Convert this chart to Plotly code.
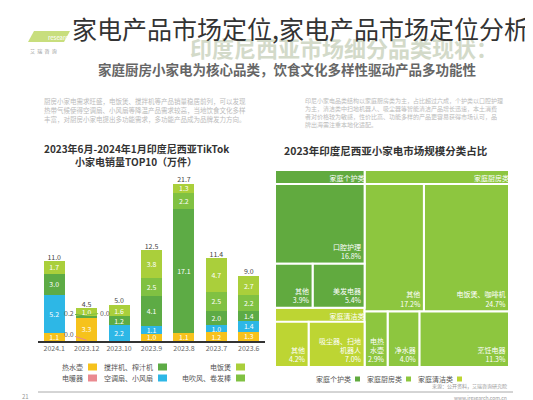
import plotly.graph_objects as go

FONT = "Noto Sans CJK SC"

# ---------------- bar chart data ----------------
months = ["2023.6", "2023.7", "2023.8", "2023.9", "2023.10", "2023.12", "2024.1"]
kettle = [1.3, 1.2, 1.1, 1.0, 0.0, 3.3, 1.1]          # 热水壶
heater = [0.0, 0.0, 0.0, 0.0, 0.0, 0.0, 0.0]          # 电暖器
fan = [1.4, 1.0, 0.0, 1.1, 2.2, 0.0, 5.2]             # 空调扇、小风扇
juicer = [1.4, 2.0, 17.1, 4.1, 1.2, 0.2, 3.0]         # 搅拌机、榨汁机
dryer = [2.2, 2.5, 2.2, 2.5, 0.0, 0.0, 0.0]           # 电吹风、卷发棒
cooker = [2.7, 4.7, 1.3, 3.8, 1.6, 1.0, 1.7]          # 电饭煲

series_names = ["热水壶", "电暖器", "空调扇、小风扇", "搅拌机、榨汁机", "电吹风、卷发棒", "电饭煲"]
series_values = [kettle, heater, fan, juicer, dryer, cooker]
series_colors = ["#f6c21c", "#ea8a90", "#2db7e6", "#5dab45", "#80c142", "#aacf3b"]

# ---------------- treemap data ----------------
tm_ids = ["厨房", "个护", "清洁",
          "厨房-1", "厨房-2", "厨房-3", "厨房-4", "厨房-5",
          "个护-1", "个护-2", "个护-3",
          "清洁-1", "清洁-2"]
tm_labels = ["家庭厨房类", "家庭个护类", "家庭清洁类",
             "电饭煲、咖啡机", "其他", "烹饪电器", "净水器", "电热<br>水壶",
             "口腔护理", "美发电器", "其他",
             "吸尘器、扫地<br>机器人", "其他"]
tm_parents = ["root", "root", "root",
              "厨房", "厨房", "厨房", "厨房", "厨房",
              "个护", "个护", "个护",
              "清洁", "清洁"]
tm_child_values = [24.7, 17.2, 11.3, 4.0, 2.9, 16.8, 5.4, 3.9, 7.0, 4.2]
cat_names = ["家庭个护类", "家庭厨房类", "家庭清洁类"]
cat_keys = ["个护", "厨房", "清洁"]
cat_colors = {"厨房": "#8dc63f", "个护": "#61aa3f", "清洁": "#bdd533", "root": "white"}

fig = go.Figure()

for name, vals, color in zip(series_names, series_values, series_colors):
    fig.add_trace(go.Bar(
        x=months, y=vals, name=name, marker_color=color,
        marker_line_width=0, width=0.65, showlegend=False,
        text=[f"{v:.1f}" if v >= 0.9 else "" for v in vals],
        textposition="inside", insidetextanchor="middle",
        textfont=dict(color="white", size=7, family=FONT),
        textangle=0, hoverinfo="skip",
    ))

totals = [round(sum(s[i] for s in series_values), 1) for i in range(len(months))]
fig.add_trace(go.Scatter(
    x=months, y=totals, mode="text", text=[f"{t:.1f}" for t in totals],
    textposition="top center", textfont=dict(size=7, color="#444", family=FONT),
    showlegend=False, hoverinfo="skip", cliponaxis=False,
))

# treemap
parent_vals = {}
for pid, v in zip(tm_parents[3:], tm_child_values):
    parent_vals[pid] = parent_vals.get(pid, 0) + v
cat_vals = [parent_vals["厨房"], parent_vals["个护"], parent_vals["清洁"]]
ids = ["root"] + tm_ids
labels = [""] + tm_labels
parents = [""] + tm_parents
values = [sum(cat_vals)] + cat_vals + tm_child_values
colors = [cat_colors[i.split("-")[0]] for i in ids]
n_leaf = len(tm_child_values)
tm_domain = dict(x=[267 / 533, 501 / 533], y=[1 - 359 / 400, 1 - 148 / 400])
tiling = dict(packing="squarify", squarifyratio=1.5, flip="x", pad=0)
pad = dict(t=14, l=0, r=0, b=0)

# cells with leaf labels (bottom right)
fig.add_trace(go.Treemap(
    ids=ids, labels=labels, parents=parents, values=values,
    branchvalues="total", sort=True,
    marker=dict(colors=colors, line=dict(color="white", width=2), pad=pad),
    texttemplate=[""] * 4 + ["%{label}<br>%{value:.1f}%"] * n_leaf,
    textposition="bottom right",
    textfont=dict(color="white", size=7, family=FONT),
    tiling=tiling, pathbar=dict(visible=False), domain=tm_domain, hoverinfo="skip",
))
# same layout, transparent: category labels in the headers
fig.add_trace(go.Treemap(
    ids=ids, labels=labels, parents=parents, values=values,
    branchvalues="total", sort=True,
    marker=dict(colors=["rgba(0,0,0,0)"] * len(ids), line=dict(width=0), pad=pad),
    texttemplate=[""] + ["%{label}"] * 3 + [""] * n_leaf,
    textposition="top right",
    textfont=dict(color="white", size=7, family=FONT),
    tiling=tiling, pathbar=dict(visible=False), domain=tm_domain, hoverinfo="skip",
))

ann = []
shapes = []
def txt(x, y, s, size, color="#555", xanchor="left", yanchor="middle", **kw):
    ann.append(dict(x=x / 533, y=1 - y / 400, xref="paper", yref="paper", text=s,
                    showarrow=False, xanchor=xanchor, yanchor=yanchor,
                    font=dict(size=size, color=color, family=FONT), **kw))

def swatch(x0, yc, color, w=9, h=7):
    shapes.append(dict(type="rect", xref="paper", yref="paper",
                       x0=x0 / 533, x1=(x0 + w) / 533,
                       y0=1 - (yc + h / 2) / 400, y1=1 - (yc - h / 2) / 400,
                       fillcolor=color, line_width=0))

# header
txt(180, 39, "<b>印度尼西亚市场细分品类现状：</b>", 22, color="#d3dac9")
txt(62, 20, "家电产品市场定位,家电产品市场定位分析", 25, color="#333")
txt(88, 61, "<b>家庭厨房小家电为核心品类，饮食文化多样性驱动产品多功能性</b>", 13.5, color="#666")
txt(38, 29, "research", 6, color="white")
txt(20, 43, "艾  瑞  咨  询", 5, color="#999")

# paragraphs
left_par = ["厨房小家电需求旺盛，电饭煲、搅拌机等产品销量稳居前列，可以发现",
            "热带气候使得空调扇、小风扇等降温产品需求较高，当地饮食文化多样",
            "丰富，对厨房小家电提出多功能需求，多功能产品成为品牌发力方向。"]
for i, s in enumerate(left_par):
    txt(34, 93 + i * 9, s, 6.5, color="#bbbbbb")
right_par = ["印尼小家电品类结构以家庭厨房类为主，占比超过六成，个护类以口腔护理",
             "为主，清洁类中扫地机器人、吸尘器等智能清洁产品增长迅速，本土消费",
             "者对价格较为敏感，性价比高、功能多样的产品更容易获得市场认可，品",
             "牌出海需注重本地化适配。"]
for i, s in enumerate(right_par):
    txt(295, 92 + i * 8, s, 6, color="#bbbbbb")

# chart titles
txt(128, 140, "<b>2023年6月-2024年1月印度尼西亚TikTok</b>", 10, color="#333", xanchor="center")
txt(128, 153, "<b>小家电销量TOP10（万件）</b>", 10, color="#333", xanchor="center")
txt(378, 142, "<b>2023年印度尼西亚小家电市场规模分类占比</b>", 10.5, color="#333", xanchor="center")

# bar legend (text then swatch, as laid out in the picture)
leg_pos = {"热水壶": (80, 359), "电暖器": (80, 370),
           "搅拌机、榨汁机": (150, 359), "空调扇、小风扇": (150, 370),
           "电饭煲": (228, 359), "电吹风、卷发棒": (228, 370)}
for name, color in zip(series_names, series_colors):
    sx, sy = leg_pos[name]
    swatch(sx, sy, color)
    txt(sx - 3, sy, name, 7, color="#555", xanchor="right")

# treemap legend
tx = 345
for name, key in zip(cat_names, cat_keys):
    txt(tx, 371, name, 7, color="#555", xanchor="right")
    swatch(tx + 2, 371, cat_colors[key], w=5, h=5)
    tx += 51

# sources / footer
txt(501, 378, "来源：公开资料，艾瑞咨询研究院", 5, color="#999", xanchor="right")
txt(501, 389, "www.iresearch.com.cn", 5, color="#999", xanchor="right")
txt(12, 388, "21", 6, color="#999")

# side tab text
txt(522, 159, "市<br>场<br>概<br>况", 6, color="white", xanchor="center")

# small-value callouts on 2023.12 bar (category index on a category axis)
i12 = months.index("2023.12")
ann.append(dict(x=i12, y=3.4, xref="x", yref="y", text="0.2", showarrow=True,
                ax=-18, ay=-3, arrowhead=0, arrowwidth=1, arrowcolor="#5dab45",
                font=dict(size=7, color="#555", family=FONT)))
ann.append(dict(x=i12, y=3.6, xref="x", yref="y", text="0.0", showarrow=True,
                ax=18, ay=-2, arrowhead=0, arrowwidth=1, arrowcolor="#80c142",
                font=dict(size=7, color="#555", family=FONT)))
ann.append(dict(x=i12, y=0.1, xref="x", yref="y", text="0.0", showarrow=True,
                ax=-18, ay=-6, arrowhead=0, arrowwidth=1, arrowcolor="#ea8a90",
                font=dict(size=7, color="#555", family=FONT)))

shapes += [
    dict(type="rect", xref="paper", yref="paper", x0=518 / 533, x1=1.0,
         y0=1 - 195 / 400, y1=1 - 123 / 400, fillcolor="#9fcb3f", line_width=0),
    dict(type="path", xref="paper", yref="paper",
         path=f"M {20/533} {1-34/400} L {26/533} {1-23/400} L {62/533} {1-23/400} L {56/533} {1-34/400} Z",
         fillcolor="#c8de7d", line_width=0, layer="below"),
    dict(type="line", xref="paper", yref="paper", x0=30 / 533, x1=505 / 533,
         y0=1 - 384 / 400, y1=1 - 384 / 400, line=dict(color="#aaa", width=1)),
]

fig.update_layout(
    width=533, height=400, margin=dict(l=0, r=0, t=0, b=0),
    paper_bgcolor="white", plot_bgcolor="white",
    barmode="stack", showlegend=False,
    font=dict(family=FONT, color="#555"),
    xaxis=dict(type="category", domain=[30 / 533, 257 / 533], autorange="reversed",
               showline=True, linecolor="#333", linewidth=1.5,
               ticks="", tickfont=dict(size=7, color="#666"), showgrid=False),
    yaxis=dict(domain=[1 - 333 / 400, 1 - 170 / 400], range=[0, 22.5],
               showticklabels=False, showgrid=False, zeroline=False, showline=False),
    uniformtext=dict(minsize=6, mode="show"),
    annotations=ann, shapes=shapes,
)

fig.write_html("out.html")
